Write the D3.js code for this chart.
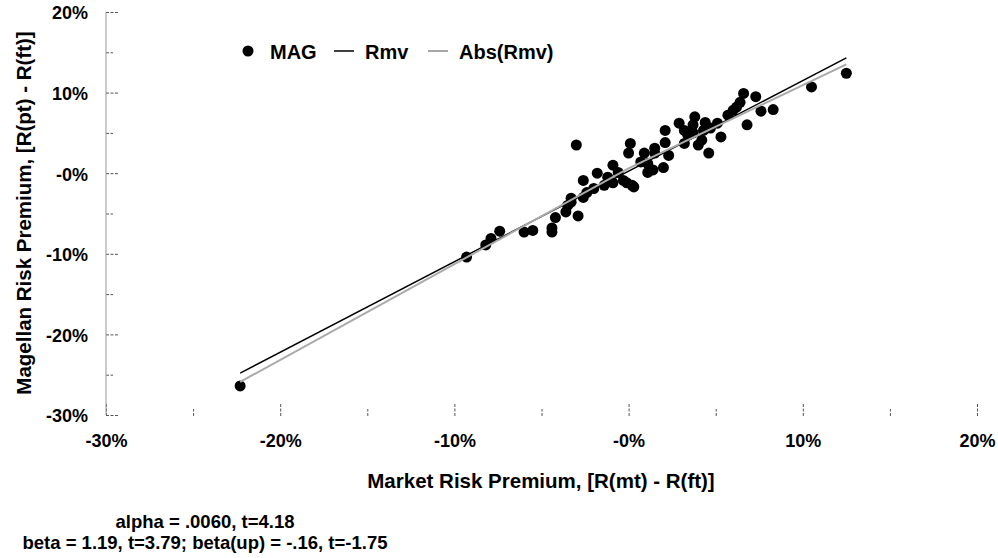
<!DOCTYPE html>
<html>
<head>
<meta charset="utf-8">
<script src="https://cdn.jsdelivr.net/npm/d3@7"></script>
<style>
  body { margin: 0; background: #fff; }
  text { font-family: "Liberation Sans", Arial, sans-serif; font-weight: bold; fill: #000; }
</style>
</head>
<body>
<div class="chart"></div>
<script>
var svgWidth = 998;
var svgHeight = 558;

// MAG scatter, in percent: market premium (x) vs Magellan premium (y)
var magX = [-22.3, -9.3, -8.2, -7.9, -7.4, -6.0, -5.5, -4.4, -4.4, -4.2,
  -3.0, 0.1, 0.0, -2.6, -1.8, -0.9, -1.2, -0.6, -0.3, 0.2,
  -2.0, -2.4, -2.6, -3.3, -3.3, -3.5, -3.6, -2.9, -1.4, -0.9,
  -0.1, 0.3, 0.9, 1.1, 1.5, 1.4, 0.7, 1.1, 1.5, 2.0,
  6.6, 7.3, 6.4, 6.2, 6.0, 5.7, 6.8, 3.8, 3.7, 4.4,
  5.1, 2.9, 2.1, 3.2, 3.4, 3.7, 4.3, 4.7, 5.3, 4.2,
  4.0, 3.2, 2.1, 4.6, 2.3, 12.5, 10.5, 7.6, 8.3];
var magY = [-26.4, -10.4, -8.9, -8.1, -7.2, -7.3, -7.1, -7.3, -6.8, -5.5,
  3.5, 3.7, 2.5, -0.9, 0.0, 1.0, -0.5, 0.1, -0.9, -1.5,
  -1.9, -2.4, -3.0, -3.1, -3.6, -4.0, -4.8, -5.3, -1.5, -1.2,
  -1.2, -1.7, 2.5, 1.2, 2.5, 0.4, 1.4, 0.1, 3.1, 0.7,
  9.9, 9.5, 8.8, 8.2, 7.8, 7.2, 6.0, 7.0, 6.0, 6.3,
  6.2, 6.2, 5.3, 5.3, 4.7, 5.0, 5.3, 5.6, 4.5, 4.1,
  3.5, 3.7, 3.8, 2.5, 2.2, 12.4, 10.7, 7.7, 7.9];

// fitted lines
var rmvX = [-22.3, 12.5];
var rmvY = [-24.8, 14.3];
var absX = [-22.3, 0, 12.5];
var absY = [-25.9, 0.6, 13.5];

var majorTicks = [-30, -20, -10, 0, 10, 20];
var minorTicks = [-25, -15, -5, 5, 15];
var tickLabels = ["-30%", "-20%", "-10%", "-0%", "10%", "20%"];

var legendItems = ["MAG", "Rmv", "Abs(Rmv)"];
var statLines = ["alpha = .0060, t=4.18", "beta = 1.19, t=3.79; beta(up) = -.16, t=-1.75"];

var svg = d3.select(".chart")
  .append("svg")
  .attr("width", svgWidth)
  .attr("height", svgHeight);

var xScale = d3.scaleLinear().domain([-30, 20]).range([106, 977]);
var yScale = d3.scaleLinear().domain([-30, 20]).range([415, 12]);

var tickColor = "#555";

// y axis: major ticks with labels, pointing right
var yMajor = svg.append("g")
  .attr("transform", "translate(106,0)")
  .call(d3.axisLeft(yScale)
    .tickValues(majorTicks)
    .tickSize(-13)
    .tickPadding(18)
    .tickFormat((d, i) => tickLabels[i]));
yMajor.select(".domain").remove();
yMajor.selectAll("text").attr("font-size", 18).attr("dy", "0.38em");

var yMinor = svg.append("g")
  .attr("transform", "translate(106,0)")
  .call(d3.axisLeft(yScale).tickValues(minorTicks).tickSize(-7).tickFormat(""));
yMinor.select(".domain").remove();

// x axis: no baseline, ticks pointing up
var xMajor = svg.append("g")
  .attr("transform", "translate(0,416)")
  .call(d3.axisBottom(xScale)
    .tickValues(majorTicks)
    .tickSize(-13)
    .tickPadding(18)
    .tickFormat((d, i) => tickLabels[i]));
xMajor.select(".domain").remove();
xMajor.selectAll("text").attr("font-size", 18).attr("dy", "0.71em");

var xMinor = svg.append("g")
  .attr("transform", "translate(0,416)")
  .call(d3.axisBottom(xScale).tickValues(minorTicks).tickSize(-7).tickFormat(""));
xMinor.select(".domain").remove();

svg.selectAll(".tick line")
  .attr("stroke", tickColor)
  .attr("stroke-dasharray", "3,1.5");
svg.selectAll(".tick text").attr("fill", "#000");

// y axis line
svg.append("line")
  .attr("x1", xScale(-30)).attr("x2", xScale(-30))
  .attr("y1", yScale(20)).attr("y2", yScale(-30))
  .attr("stroke", "#999")
  .attr("stroke-width", 1);

// scatter
svg.append("g")
  .selectAll("circle")
  .data(magX)
  .enter()
  .append("circle")
  .attr("cx", d => xScale(d))
  .attr("cy", (d, i) => yScale(magY[i]))
  .attr("r", 5.5)
  .attr("fill", "#000");

var line = d3.line()
  .x(d => xScale(d[0]))
  .y(d => yScale(d[1]));

svg.append("path")
  .datum(rmvX.map((d, i) => [d, rmvY[i]]))
  .attr("d", line)
  .attr("fill", "none")
  .attr("stroke", "#000")
  .attr("stroke-width", 1.5);

svg.append("path")
  .datum(absX.map((d, i) => [d, absY[i]]))
  .attr("d", line)
  .attr("fill", "none")
  .attr("stroke", "#aaa")
  .attr("stroke-width", 2);

// legend
var legend = svg.append("g");
legend.append("circle")
  .attr("cx", 248).attr("cy", 51).attr("r", 5.5).attr("fill", "#000");
legend.append("line")
  .attr("x1", 334).attr("x2", 354).attr("y1", 51).attr("y2", 51)
  .attr("stroke", "#000").attr("stroke-width", 1.5);
legend.append("line")
  .attr("x1", 428).attr("x2", 448).attr("y1", 51).attr("y2", 51)
  .attr("stroke", "#888").attr("stroke-width", 1.5);
var legendX = [270, 365, 459];
legend.selectAll("text")
  .data(legendItems)
  .enter()
  .append("text")
  .attr("x", (d, i) => legendX[i])
  .attr("y", 59)
  .attr("font-size", 20)
  .text(d => d);

// axis titles
svg.append("text")
  .attr("x", 541)
  .attr("y", 488)
  .attr("text-anchor", "middle")
  .attr("font-size", 20.5)
  .text("Market Risk Premium, [R(mt) - R(ft)]");

svg.append("text")
  .attr("transform", "translate(31,213) rotate(-90)")
  .attr("text-anchor", "middle")
  .attr("font-size", 20.5)
  .text("Magellan Risk Premium, [R(pt) - R(ft)]");

// regression stats
svg.selectAll(".stat")
  .data(statLines)
  .enter()
  .append("text")
  .attr("class", "stat")
  .attr("x", 205)
  .attr("y", (d, i) => 528 + i * 21)
  .attr("text-anchor", "middle")
  .attr("font-size", 18.5)
  .text(d => d);
</script>
</body>
</html>
